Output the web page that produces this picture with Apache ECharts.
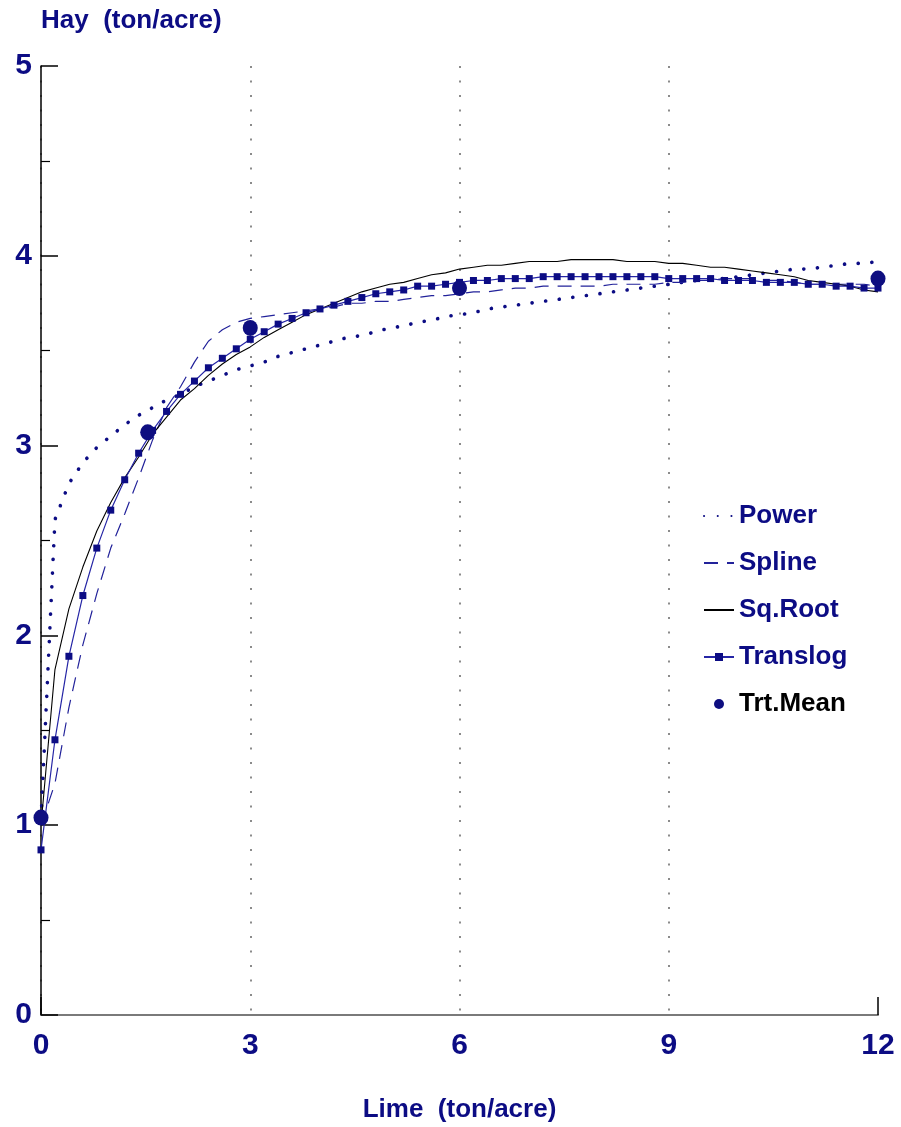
<!DOCTYPE html>
<html><head><meta charset="utf-8">
<script src="https://cdn.jsdelivr.net/npm/echarts@6/dist/echarts.min.js"></script>
<style>html,body{margin:0;padding:0;background:#fff}#c{width:901px;height:1127px}</style>
</head><body><div id="c"></div><script>
// Lime rates (ton/acre) at which the fitted curves are drawn
const limeX = [0,0.2,0.4,0.6,0.8,1.0,1.2,1.4,1.6,1.8,2.0,2.2,2.4,2.6,2.8,3.0,3.2,3.4,3.6,3.8,
  4.0,4.2,4.4,4.6,4.8,5.0,5.2,5.4,5.6,5.8,6.0,6.2,6.4,6.6,6.8,7.0,7.2,7.4,7.6,7.8,
  8.0,8.2,8.4,8.6,8.8,9.0,9.2,9.4,9.6,9.8,10.0,10.2,10.4,10.6,10.8,11.0,11.2,11.4,11.6,11.8,12.0];
const powerY = [1.03,2.61,2.80,2.91,2.99,3.05,3.11,3.16,3.20,3.24,3.27,3.31,3.34,3.37,3.40,3.42,3.44,3.47,3.49,3.51,
  3.53,3.55,3.57,3.58,3.60,3.62,3.63,3.65,3.66,3.68,3.69,3.70,3.72,3.73,3.74,3.75,3.76,3.77,3.78,3.79,
  3.80,3.81,3.82,3.83,3.84,3.85,3.86,3.87,3.88,3.88,3.89,3.90,3.91,3.92,3.93,3.93,3.94,3.95,3.96,3.96,3.97];
const splineY = [1.00,1.22,1.62,1.95,2.22,2.46,2.64,2.83,3.03,3.20,3.31,3.44,3.55,3.61,3.65,3.67,3.68,3.69,3.70,3.71,
  3.72,3.73,3.75,3.75,3.76,3.76,3.77,3.78,3.79,3.79,3.80,3.81,3.81,3.82,3.83,3.83,3.84,3.84,3.84,3.84,
  3.84,3.85,3.85,3.85,3.85,3.86,3.86,3.87,3.87,3.88,3.88,3.88,3.87,3.87,3.86,3.85,3.85,3.85,3.85,3.85,3.84];
const sqrootY = [1.00,1.82,2.14,2.36,2.55,2.70,2.83,2.94,3.06,3.15,3.24,3.30,3.37,3.43,3.48,3.52,3.57,3.61,3.65,3.69,
  3.72,3.75,3.78,3.81,3.83,3.85,3.86,3.88,3.90,3.91,3.93,3.94,3.95,3.95,3.96,3.97,3.97,3.97,3.98,3.98,
  3.98,3.98,3.97,3.97,3.97,3.96,3.96,3.95,3.94,3.94,3.93,3.92,3.91,3.90,3.89,3.87,3.86,3.85,3.84,3.82,3.81];
const translogY = [0.87,1.45,1.89,2.21,2.46,2.66,2.82,2.96,3.08,3.18,3.27,3.34,3.41,3.46,3.51,3.56,3.60,3.64,3.67,3.70,
  3.72,3.74,3.76,3.78,3.80,3.81,3.82,3.84,3.84,3.85,3.86,3.87,3.87,3.88,3.88,3.88,3.89,3.89,3.89,3.89,
  3.89,3.89,3.89,3.89,3.89,3.88,3.88,3.88,3.88,3.87,3.87,3.87,3.86,3.86,3.86,3.85,3.85,3.84,3.84,3.83,3.83];
// Treatment means
const meanX = [0, 1.53, 3, 6, 12];
const meanY = [1.04, 3.07, 3.62, 3.83, 3.88];
const xTicks = [0, 3, 6, 9, 12];
const yTicks = [0, 1, 2, 3, 4, 5];

const NAVY = '#0c0c84';
const FONT = '"Liberation Sans", Arial, Helvetica, sans-serif';
const pairs = (xs, ys) => xs.map((x, i) => [x, ys[i]]);
const noDot = {opacity: 0};

const chart = echarts.init(document.getElementById('c'), null, {renderer: 'canvas'});
chart.setOption({
  backgroundColor: '#fff',
  animation: false,
  grid: {left: 41, right: 23, top: 66, bottom: 112, outerBoundsMode: 'none'},
  legend: {
    orient: 'vertical', left: 698, top: 498,
    itemWidth: 30, itemHeight: 10, itemGap: 21,
    textStyle: {fontSize: 26, fontWeight: 'bold', color: NAVY, fontFamily: FONT},
    data: [
      {name: 'Power', itemStyle: noDot},
      {name: 'Spline', itemStyle: noDot},
      {name: 'Sq.Root', itemStyle: noDot},
      'Translog',
      {name: 'Trt.Mean', textStyle: {color: '#000'}}
    ]
  },
  xAxis: [{
    type: 'value', min: xTicks[0], max: xTicks[xTicks.length - 1], interval: 3,
    name: 'Lime  (ton/acre)', nameLocation: 'middle', nameGap: 82,
    nameTextStyle: {fontSize: 26, fontWeight: 'bold', color: NAVY, fontFamily: FONT},
    axisLine: {show: true, onZero: false, lineStyle: {color: '#7a7a7a', width: 2}},
    axisTick: {show: false},
    axisLabel: {fontSize: 30, fontWeight: 'bold', color: NAVY, fontFamily: FONT, margin: 16},
    splitLine: {show: true, showMaxLine: false, lineStyle: {color: '#666', width: 1.5, type: [2, 12.5]}}
  }, {
    type: 'value', min: 0, max: 12, interval: 12, position: 'bottom',
    axisLine: {show: false}, axisLabel: {show: false}, splitLine: {show: false},
    axisTick: {show: true, inside: true, length: 18, lineStyle: {color: '#000', width: 1.5}}
  }],
  yAxis: {
    type: 'value', min: yTicks[0], max: yTicks[yTicks.length - 1], interval: 1,
    name: 'Hay  (ton/acre)', nameLocation: 'end', nameGap: 32,
    nameTextStyle: {fontSize: 26, fontWeight: 'bold', color: NAVY, fontFamily: FONT, align: 'left'},
    axisLine: {show: true, onZero: false, lineStyle: {color: '#000', width: 1.5}},
    axisTick: {show: true, inside: true, length: 17, lineStyle: {color: '#000', width: 1.5}},
    minorTick: {show: true, splitNumber: 2, length: 9, lineStyle: {color: '#000', width: 1.2}},
    axisLabel: {fontSize: 30, fontWeight: 'bold', color: NAVY, fontFamily: FONT, margin: 9},
    splitLine: {show: false}
  },
  series: [
    {name: 'Power', type: 'line', data: pairs(limeX, powerY), symbol: 'none', z: 3,
     itemStyle: {color: NAVY},
     lineStyle: {color: NAVY, width: 3.6, type: [0.1, 13.6], cap: 'round'}},
    {name: 'Spline', type: 'line', data: pairs(limeX, splineY), symbol: 'none', z: 3,
     itemStyle: {color: '#22229a'},
     lineStyle: {color: '#22229a', width: 1.2, type: [14, 9]}},
    {name: 'Sq.Root', type: 'line', data: pairs(limeX, sqrootY), symbol: 'none', z: 3,
     itemStyle: {color: '#000'},
     lineStyle: {color: '#000', width: 1.1}},
    {name: 'Translog', type: 'line', data: pairs(limeX, translogY), symbol: 'rect', symbolSize: 7, z: 4,
     itemStyle: {color: NAVY},
     lineStyle: {color: '#2626a6', width: 1.2}},
    {name: 'Trt.Mean', type: 'scatter', data: pairs(meanX, meanY), symbol: 'circle', symbolSize: [15, 16], z: 5,
     itemStyle: {color: '#0e0e80', opacity: 1}}
  ]
});
</script></body></html>
